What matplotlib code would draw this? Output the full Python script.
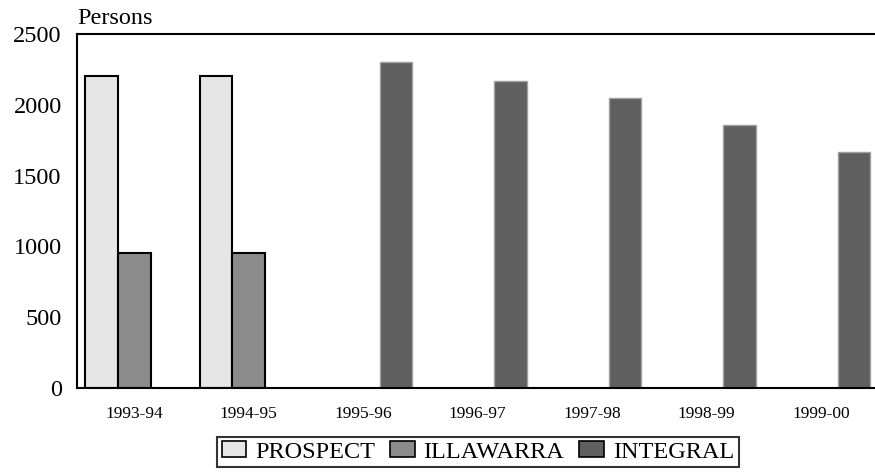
import matplotlib
matplotlib.use("Agg")
import matplotlib.pyplot as plt
import numpy as np

categories = ["1993-94", "1994-95", "1995-96", "1996-97", "1997-98", "1998-99", "1999-00"]
prospect = [2200, 2200, 0, 0, 0, 0, 0]
illawarra = [950, 950, 0, 0, 0, 0, 0]
integral = [0, 0, 2300, 2170, 2050, 1860, 1670]
y_ticks = [0, 500, 1000, 1500, 2000, 2500]

plt.rcParams['font.family'] = ['Liberation Serif', 'DejaVu Serif']

W, H = 875, 473
fig = plt.figure(figsize=(W / 100, H / 100), dpi=100)
left, top, bottom = 77, 34, 388
width_px = 7 * 114.5
ax = fig.add_axes([left / W, 1 - bottom / H, width_px / W, (bottom - top) / H])

x = np.arange(len(categories))
bw = 0.284
series = [
    ("PROSPECT", prospect, "#e6e6e6", "black", 1.5),
    ("ILLAWARRA", illawarra, "#8c8c8c", "black", 1.5),
    ("INTEGRAL", integral, "#5f5f5f", "#a0a0a0", 1.0),
]
handles = []
for i, (name, vals, fc, ec, lw) in enumerate(series):
    vals = np.array(vals, dtype=float)
    mask = vals > 0
    ax.bar(x[mask] + (i - 1) * bw, vals[mask], width=bw, color=fc,
           edgecolor=ec, linewidth=lw, zorder=2)
    handles.append(matplotlib.patches.Patch(facecolor=fc, edgecolor="black",
                                            linewidth=1.2, label=name))

ax.set_xlim(-0.5, len(categories) - 0.5)
ax.set_ylim(0, 2500)
ax.set_yticks(y_ticks)
ax.set_yticklabels([str(v) for v in y_ticks], fontsize=17.5)
ax.set_xticks(x)
ax.set_xticklabels(categories, fontsize=12.5)
ax.tick_params(axis='both', length=0)
ax.tick_params(axis='y', pad=11)
ax.tick_params(axis='x', pad=13)
for s in ["left", "top", "bottom"]:
    ax.spines[s].set_linewidth(1.5)
ax.spines["right"].set_visible(False)

fig.text(left / W, 1 - 19 / H, "Persons", fontsize=17.5, ha="left", va="center")

leg = fig.legend(handles=handles, loc="center", bbox_to_anchor=(478 / W, 1 - 452 / H),
                 ncol=3, fontsize=17.5, frameon=True, fancybox=False,
                 edgecolor="black", handlelength=1.0, handleheight=0.58,
                 handletextpad=0.37, columnspacing=0.62, borderpad=0.2,
                 borderaxespad=0)
leg.get_frame().set_linewidth(1.5)

fig.savefig("out.png", dpi=100)
